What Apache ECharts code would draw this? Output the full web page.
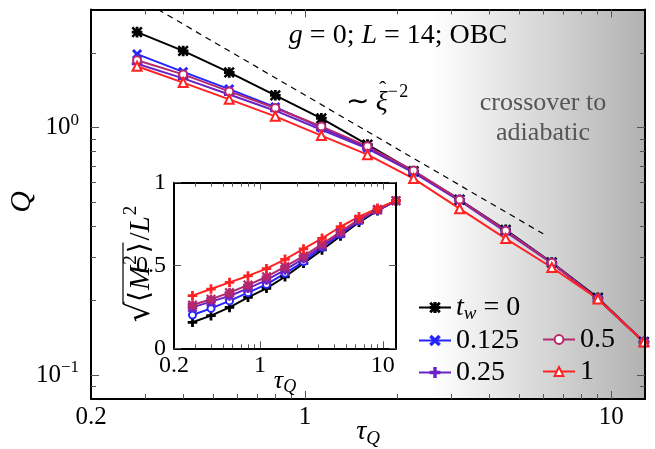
<!DOCTYPE html>
<html>
<head>
<meta charset="utf-8">
<script src="https://cdn.jsdelivr.net/npm/echarts@6/dist/echarts.min.js"></script>
<style>
html, body { margin: 0; padding: 0; background: #fff; }
#main { width: 655px; height: 449px; }
</style>
</head>
<body>
<div id="main"></div>
<script>
// quench times (same for main plot and inset)
var tauQ = [0.2828, 0.4, 0.5657, 0.8, 1.131, 1.6, 2.263, 3.2, 4.525, 6.4, 9.051, 12.8];
var twNames = ['0', '0.125', '0.25', '0.5', '1'];

// main plot: Q vs tau_Q
var qTw0 = [2.43, 2.04, 1.67, 1.35, 1.09, 0.853, 0.666, 0.511, 0.386, 0.285, 0.205, 0.136];
var qTw0125 = [1.98, 1.68, 1.43, 1.21, 1.00, 0.830, 0.664, 0.511, 0.383, 0.284, 0.203, 0.136];
var qTw025 = [1.81, 1.58, 1.36, 1.17, 0.98, 0.822, 0.657, 0.506, 0.379, 0.283, 0.203, 0.136];
var qTw05 = [1.87, 1.64, 1.40, 1.20, 1.01, 0.840, 0.670, 0.511, 0.383, 0.284, 0.203, 0.136];
var qTw1 = [1.77, 1.52, 1.30, 1.11, 0.928, 0.777, 0.622, 0.470, 0.356, 0.272, 0.203, 0.136];

// inset: sqrt(<M^2>)/L^2 vs tau_Q
var mTw0 = [0.157, 0.197, 0.247, 0.308, 0.362, 0.432, 0.513, 0.594, 0.678, 0.761, 0.831, 0.891];
var mTw0125 = [0.201, 0.241, 0.286, 0.336, 0.386, 0.453, 0.523, 0.610, 0.688, 0.769, 0.835, 0.891];
var mTw025 = [0.247, 0.282, 0.316, 0.362, 0.412, 0.473, 0.541, 0.618, 0.694, 0.775, 0.835, 0.891];
var mTw05 = [0.261, 0.296, 0.336, 0.382, 0.432, 0.493, 0.557, 0.630, 0.704, 0.779, 0.839, 0.891];
var mTw1 = [0.318, 0.358, 0.398, 0.437, 0.481, 0.537, 0.600, 0.664, 0.734, 0.795, 0.845, 0.891];

// ~ xi^-2 guide line
var guideTau = [0.331, 6.0];
var guideQ = [3.0, 0.372];

// shaded crossover region (tau range)
var crossoverTau = [2.58, 12.9];

// axis ranges and ticks
var mainX = [0.2, 12.9];
var mainY = [0.08, 3.0];
var insetX = [0.2, 12.8];
var xMajor = [1, 10];
var xMinor = [0.3, 0.4, 0.5, 0.6, 0.7, 0.8, 0.9, 2, 3, 4, 5, 6, 7, 8, 9];
var xLabels = [0.2, 1, 10];
var yMajor = [0.1, 1];
var yMinor = [0.09, 0.2, 0.3, 0.4, 0.5, 0.6, 0.7, 0.8, 0.9, 2];

var colors = ['#000000', '#2424ff', '#6a22c4', '#b5286c', '#ff2222'];
var FONT = 'Liberation Serif';

var L = Math.log10;
function pts(xs, ys) {
    return xs.map(function (x, i) { return [L(x), L(ys[i])]; });
}
function ptsLin(xs, ys) {
    return xs.map(function (x, i) { return [L(x), ys[i]]; });
}

var plusP = 'path://M4.2,0H5.8V4.2H10V5.8H5.8V10H4.2V5.8H0V4.2H4.2Z';
var crossP = 'path://M1.2,0L5,3.8L8.8,0L10,1.2L6.2,5L10,8.8L8.8,10L5,6.2L1.2,10L0,8.8L3.8,5L0,1.2Z';
var starP = 'path://M4.3,0H5.7V10H4.3Z M0,4.3H10V5.7H0Z M0.7,0L10,9.3L9.3,10L0,0.7Z M9.3,0L10,0.7L0.7,10L0,9.3Z';

var mainSym = [starP, crossP, plusP, 'emptyCircle', 'emptyTriangle'];
var mainSize = [9, 8, 9, 8, 9];
var insetSym = [plusP, 'emptyCircle', starP, starP, plusP];

function logAxis(grid, pos, range, ticks, len, labels, fmt, extra) {
    var ax = {
        type: 'value', gridIndex: grid, position: pos,
        min: L(range[0]), max: L(range[1]),
        z: 4,
        axisLine: { show: !!labels, onZero: false, lineStyle: { color: '#000', width: 2 } },
        splitLine: { show: false },
        axisTick: { show: true, inside: true, length: len, customValues: ticks.map(L),
            lineStyle: { color: '#555', width: 1 } },
        axisLabel: { show: false }
    };
    if (labels && labels.length) {
        ax.axisLabel = {
            show: true, customValues: labels.map(L), formatter: fmt,
            fontFamily: FONT, fontSize: extra.fontSize, color: '#000', margin: extra.margin,
            rich: extra.rich
        };
    }
    return ax;
}

function fmtNum(v) { return String(+Math.pow(10, v).toPrecision(2)); }
function fmtPow(v) { return v > -0.5 ? '10{s|0}' : '10{s|\u22121}'; }
var supRich = { s: { fontFamily: FONT, fontSize: 17, padding: [0, 0, 14, 0], color: '#000' } };

var xAxes = [
    logAxis(0, 'bottom', mainX, xMajor, 8, xLabels, fmtNum, { fontSize: 25, margin: 6 }),
    logAxis(0, 'bottom', mainX, xMinor, 5),
    logAxis(0, 'top', mainX, xMajor, 8, []),
    logAxis(0, 'top', mainX, xMinor, 5),
    logAxis(1, 'bottom', insetX, xMajor, 7, xLabels, fmtNum, { fontSize: 24, margin: 5 }),
    logAxis(1, 'bottom', insetX, xMinor, 4),
    logAxis(1, 'top', insetX, xMajor, 7, []),
    logAxis(1, 'top', insetX, xMinor, 4)
];
var yAxes = [
    logAxis(0, 'left', mainY, yMajor, 8, yMajor, fmtPow, { fontSize: 25, margin: 12, rich: supRich }),
    logAxis(0, 'left', mainY, yMinor, 5),
    logAxis(0, 'right', mainY, yMajor, 8, []),
    logAxis(0, 'right', mainY, yMinor, 5)
];
[0, 1].forEach(function (k) {
    yAxes.push({
        type: 'value', gridIndex: 1, position: k ? 'right' : 'left',
        min: 0, max: 1, interval: 0.5, z: 4,
        axisLine: { show: true, onZero: false, lineStyle: { color: '#000', width: 2 } },
        splitLine: { show: false },
        axisTick: { show: true, inside: true, length: 7, lineStyle: { color: '#555', width: 1 } },
        axisLabel: k ? { show: false } : {
            show: true, fontFamily: FONT, fontSize: 24, color: '#000', margin: 8,
            formatter: function (v) { return String(v); }
        }
    });
});

var mainData = [qTw0, qTw0125, qTw025, qTw05, qTw1];
var insetData = [mTw0, mTw0125, mTw025, mTw05, mTw1];

var series = [];
series.push({
    name: 'crossover', type: 'line', xAxisIndex: 0, yAxisIndex: 0, z: 1,
    data: [], silent: true,
    markArea: {
        silent: true,
        itemStyle: {
            color: new echarts.graphic.LinearGradient(0, 0, 1, 0, [
                { offset: 0, color: '#ffffff' },
                { offset: 1, color: '#b2b2b2' }
            ])
        },
        data: [[
            { coord: [L(crossoverTau[0]), L(mainY[0])] },
            { coord: [L(crossoverTau[1]), L(mainY[1])] }
        ]]
    }
});
series.push({
    name: 'guide', type: 'line', xAxisIndex: 0, yAxisIndex: 0, z: 3,
    data: pts(guideTau, guideQ), symbol: 'none', silent: true,
    lineStyle: { color: '#000', width: 1.2, type: [6, 5] }
});
mainData.forEach(function (ys, i) {
    series.push({
        name: twNames[i], type: 'line', xAxisIndex: 0, yAxisIndex: 0, z: 3,
        data: pts(tauQ, ys),
        symbol: mainSym[i], symbolSize: mainSize[i],
        lineStyle: { color: colors[i], width: 2 },
        itemStyle: { color: colors[i], borderColor: colors[i], borderWidth: 1.6 }
    });
});
insetData.forEach(function (ys, i) {
    series.push({
        name: 'inset ' + twNames[i], type: 'line', xAxisIndex: 4, yAxisIndex: 4, z: 3,
        data: ptsLin(tauQ, ys),
        symbol: insetSym[i], symbolSize: i === 1 ? 7 : 8,
        lineStyle: { color: colors[i], width: 2 },
        itemStyle: { color: colors[i], borderColor: colors[i], borderWidth: 1.5 }
    });
});

var legendRich = {
    i: { fontFamily: FONT, fontStyle: 'italic', fontSize: 28, color: '#000' },
    s: { fontFamily: FONT, fontStyle: 'italic', fontSize: 19, padding: [12, 0, 0, 0], color: '#000' }
};
function legendBox(names, left, top) {
    return {
        data: names, orient: 'vertical', left: left, top: top, padding: 0,
        itemWidth: 32, itemHeight: 11, itemGap: 3,
        selectedMode: false,
        formatter: function (n) { return n === '0' ? '{i|t}{s|w} = 0' : n; },
        textStyle: { fontFamily: FONT, fontSize: 28, color: '#000', lineHeight: 29, rich: legendRich }
    };
}

// small helper to lay out math-like labels from pieces (measured with canvas)
var measureCtx = document.createElement('canvas').getContext('2d');
function fontStr(p) {
    return (p.italic ? 'italic ' : '') + p.size + 'px "' + (p.family || FONT) + '"';
}
function mathLabel(x, y, rot, parts, extras) {
    var widths = parts.map(function (p) {
        measureCtx.font = fontStr(p);
        return measureCtx.measureText(p.t).width + (p.gap || 0);
    });
    var total = widths.reduce(function (a, b) { return a + b; }, 0);
    var cx = -total / 2, pos = [];
    var children = parts.map(function (p, i) {
        pos.push([cx, cx + widths[i]]);
        var el = { type: 'text', x: cx, y: p.dy || 0, z: 10, style: {
            text: p.t, font: fontStr(p), fill: p.fill || '#000', align: 'left', verticalAlign: 'middle' } };
        cx += widths[i];
        return el;
    });
    (extras || []).forEach(function (e) { var c = e(pos); c.z = 10; children.push(c); });
    return { type: 'group', x: x, y: y, rotation: rot, z: 10, children: children };
}

var chartDom = document.getElementById('main');
var myChart = echarts.init(chartDom, null, { renderer: 'canvas' });
var option = {
    animation: false,
    backgroundColor: '#fff',
    grid: [
        { left: 91, top: 9.5, width: 554, height: 389.5 },
        { left: 174, top: 182.7, width: 222, height: 165.6, show: true, backgroundColor: '#fff', borderWidth: 0, z: 2 }
    ],
    xAxis: xAxes,
    yAxis: yAxes,
    legend: [
        legendBox(['0', '0.125', '0.25'], 418, 293),
        legendBox(['0.5', '1'], 542, 325)
    ],
    series: series,
    graphic: [
        mathLabel(398, 36, 0, [
            { t: 'g', size: 28, italic: true }, { t: ' = 0; ', size: 28 },
            { t: 'L', size: 28, italic: true }, { t: ' = 14; OBC', size: 28 }
        ]),
        { type: 'text', x: 543, y: 118, z: 10, style: {
            text: 'crossover to\nadiabatic', align: 'center', verticalAlign: 'middle',
            fontFamily: FONT, fontSize: 26, lineHeight: 30, fill: '#555' } },
        mathLabel(377, 103, 0, [
            { t: '\u223C ', size: 28 }, { t: '\u03BE', size: 28, italic: true },
            { t: '\u2212\u200A2', size: 18, dy: -11 }
        ], [function (p) {
            return { type: 'text', x: (p[1][0] + p[1][1]) / 2 + 1, y: -13, style: {
                text: '\u02C6', font: '22px "' + FONT + '"', fill: '#000', align: 'center', verticalAlign: 'middle' } };
        }]),
        mathLabel(22, 202, Math.PI / 2, [{ t: 'Q', size: 30, italic: true }]),
        mathLabel(368, 432, 0, [
            { t: '\u03C4', size: 28, italic: true }, { t: 'Q', size: 19, italic: true, dy: 7 }
        ]),
        mathLabel(285, 381, 0, [
            { t: '\u03C4', size: 26, italic: true }, { t: 'Q', size: 18, italic: true, dy: 6 }
        ]),
        mathLabel(141, 264, Math.PI / 2, [
            { t: '\u221A', size: 32, family: 'DejaVu Serif' },
            { t: '\u27E8', size: 28, family: 'DejaVu Sans', gap: 1 },
            { t: 'M', size: 29, italic: true, gap: 1 },
            { t: '2', size: 19, dy: -10, gap: 2 },
            { t: '\u27E9', size: 28, family: 'DejaVu Sans', gap: 2 },
            { t: '/', size: 29 },
            { t: 'L', size: 29, italic: true, gap: 1 },
            { t: '2', size: 19, dy: -10 }
        ], [function (p) {
            return { type: 'line', shape: { x1: p[0][1] - 2, y1: -18, x2: p[4][1] - 2, y2: -18 },
                style: { stroke: '#000', lineWidth: 1.2 } };
        }])
    ]
};

option && myChart.setOption(option);
</script>
</body>
</html>
